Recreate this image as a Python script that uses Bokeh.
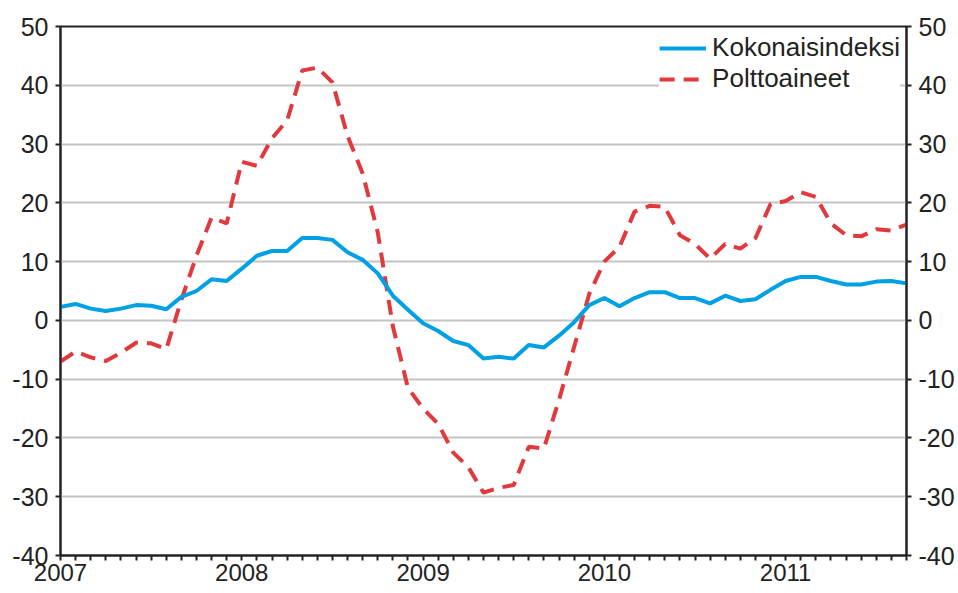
from bokeh.plotting import figure
from bokeh.models import LinearAxis, FixedTicker, Range1d, ColumnDataSource
from bokeh.embed import file_html
from bokeh.resources import INLINE

# Monthly data, Jan 2007 .. Sep 2011 (annual change, %)
years = ["2007", "2008", "2009", "2010", "2011"]
kokonaisindeksi = [
    2.3, 2.8, 2.0, 1.6, 2.0, 2.6, 2.5, 1.9, 4.0, 5.0, 7.0, 6.7,
    8.8, 11.0, 11.8, 11.8, 14.0, 14.0, 13.7, 11.6, 10.3, 8.0, 4.2, 1.8,
    -0.5, -1.8, -3.5, -4.2, -6.5, -6.2, -6.5, -4.2, -4.6, -2.6, -0.3, 2.6,
    3.8, 2.4, 3.8, 4.8, 4.8, 3.8, 3.8, 2.9, 4.2, 3.3, 3.6, 5.2,
    6.7, 7.4, 7.4, 6.7, 6.1, 6.1, 6.6, 6.7, 6.3,
]
polttoaineet = [
    -7.0, -5.3, -6.3, -6.9, -5.5, -3.8, -3.9, -4.9, 3.5, 11.0, 17.5, 16.5,
    27.0, 26.3, 31.0, 34.0, 42.5, 43.0, 40.5, 31.4, 25.0, 15.0, -1.0, -11.5,
    -15.0, -17.6, -22.5, -25.0, -29.3, -28.5, -28.0, -21.5, -21.8, -13.5, -4.5, 4.5,
    10.0, 12.5, 18.5, 19.5, 19.3, 14.5, 13.0, 10.5, 13.0, 12.2, 14.0, 19.8,
    20.3, 21.8, 21.0, 16.5, 14.5, 14.3, 15.5, 15.3, 16.3,
]
y_ticks = [-40, -30, -20, -10, 0, 10, 20, 30, 40, 50]

n = len(kokonaisindeksi)
month = list(range(n))
src = ColumnDataSource(dict(m=month, k=kokonaisindeksi, p=polttoaineet))

FONT = "Liberation Sans"
TXT = "#222222"

p = figure(width=958, height=593, output_backend="svg", toolbar_location=None,
           x_range=Range1d(0, n - 1), y_range=Range1d(-40, 50),
           min_border_left=60, min_border_right=52, min_border_top=26,
           min_border_bottom=38, background_fill_color="white",
           border_fill_color="white")

p.outline_line_color = "#222222"
p.outline_line_width = 2
p.xgrid.visible = False
p.ygrid.grid_line_color = "#c4c4c4"
p.ygrid.grid_line_width = 2
p.ygrid.ticker = FixedTicker(ticks=y_ticks)

p.line("m", "p", source=src, line_color="#E0393E", line_width=4,
       line_dash="15 9", legend_label="Polttoaineet")
p.line("m", "k", source=src, line_color="#00A0E4", line_width=4,
       legend_label="Kokonaisindeksi")

# x axis: monthly ticks, year labels at January
xa = p.xaxis[0]
xa.ticker = FixedTicker(ticks=month, minor_ticks=[])
overrides = {}
for i in month:
    overrides[i] = years[i // 12] if i % 12 == 0 else ""
xa.major_label_overrides = overrides

yl = p.yaxis[0]
yr = LinearAxis()
p.add_layout(yr, "right")
for ax in (yl, yr):
    ax.ticker = FixedTicker(ticks=y_ticks, minor_ticks=[])
    ax.major_label_standoff = 7
    ax.major_label_overrides = {v: str(v) for v in y_ticks}

for ax in (xa, yl, yr):
    ax.axis_line_color = "#222222"
    ax.axis_line_width = 2
    ax.major_tick_line_color = "#222222"
    ax.major_tick_line_width = 2
    ax.major_tick_in = 0
    ax.major_tick_out = 5
    ax.minor_tick_line_color = None
    ax.major_label_text_font = FONT
    ax.major_label_text_font_size = "25px"
    ax.major_label_text_color = TXT
xa.major_label_standoff = 3
xa.major_label_text_font_size = "24px"

leg = p.legend[0]
leg.items = list(reversed(leg.items))
leg.location = "top_right"
leg.border_line_color = None
leg.background_fill_color = "white"
leg.background_fill_alpha = 1.0
leg.label_text_font = FONT
leg.label_text_font_size = "26px"
leg.label_text_color = TXT
leg.glyph_width = 47
leg.glyph_height = 22
leg.label_height = 22
leg.label_standoff = 6
leg.spacing = -4
leg.padding = 3
leg.margin = 6

open("out.html", "w").write(file_html(p, INLINE))
